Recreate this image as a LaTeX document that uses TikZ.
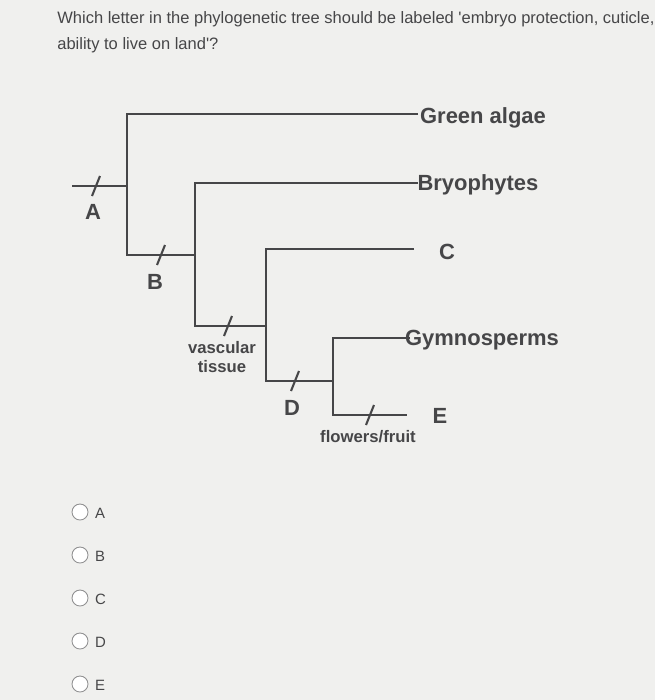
\documentclass[tikz,border=0pt]{standalone}
\usepackage{fontspec}
\setmainfont{Liberation Sans}
\usetikzlibrary{positioning}
\definecolor{bgpaper}{RGB}{240,240,238}
\definecolor{ink}{RGB}{70,70,72}
\tikzset{
    branch/.style={ink,line width=1.6pt},
    tick/.style={ink,line width=1.2pt},
    taxon/.style={ink,font=\bfseries\fontsize{12.5}{15}\selectfont,anchor=center},
    trait/.style={ink,font=\bfseries\fontsize{9.5}{11}\selectfont,align=center,inner sep=0pt},
    choice/.style={ink,font=\fontsize{8.5}{10}\selectfont,anchor=west},
}
\begin{document}
\begin{tikzpicture}[x=0.02cm,y=-0.02cm]
            % page background and question
            \useasboundingbox (0,0) rectangle (655,700);
            \fill[bgpaper] (0,0) rectangle (655,700);
            \node[ink,anchor=north west,align=left,font=\fontsize{9.4}{15}\selectfont,inner sep=0pt] (question) at (57,11)
                {Which letter in the phylogenetic tree should be labeled \textquotesingle embryo protection, cuticle,\\ability to live on land\textquotesingle ?};
            % tree
            \coordinate (root) at (72,186);
            \coordinate (n1) at (127,186);
            \coordinate (n2) at (195,255);
            \coordinate (n3) at (266,326);
            \coordinate (n4) at (333,381);
            \node[taxon] (algae) at (483,118) {Green algae};
            \node[taxon] (bryo) at (478,185) {Bryophytes};
            \node[taxon] (tipc) at (447,252) {C};
            \node[taxon] (gymno) at (482,340) {Gymnosperms};
            \node[taxon] (tipe) at (440,416) {E};
            \draw[branch] (root) -- (n1);
            \draw[branch] (418,114) -| (127,255) -- (n2);
            \draw[branch] (418,183) -| (195,326) -- (n3);
            \draw[branch] (414,249) -| (266,381) -- (n4);
            \draw[branch] (410,338) -| (333,415) -- (407,415);
            % ticks on the branches
            \foreach \x/\y in {96/186,161/255,228/326,295/381,370/415}
            {
                \draw[tick] (\x-4,\y+10) -- (\x+4,\y-10);
            }
            \node[taxon] (lblA) at (93,212) {A};
            \node[taxon] (lblB) at (155,282) {B};
            \node[taxon] (lblD) at (292,408) {D};
            \node[trait] (vasc) at (222,357) {vascular\\tissue};
            \node[trait] (flow) at (368,437) {flowers/fruit};
            % answer choices
            \foreach \l [count=\i] in {A,B,C,D,E}
            {
                \draw[ink!60,fill=white,line width=0.5pt] (80,{512+43*(\i-1)}) circle (8);
                \node[choice] (opt\l) at (89,{513+43*(\i-1)}) {\l};
            }
\end{tikzpicture}
\end{document}
